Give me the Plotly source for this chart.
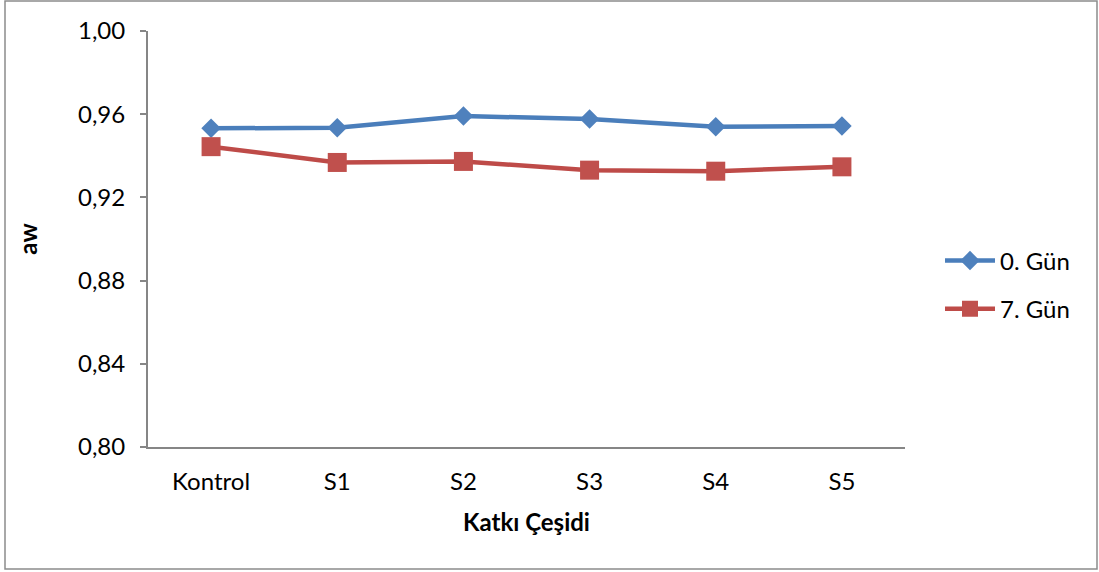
import plotly.graph_objects as go

categories = ["Kontrol", "S1", "S2", "S3", "S4", "S5"]
gun0 = [0.9532, 0.9535, 0.9591, 0.9577, 0.9540, 0.9543]
gun7 = [0.9444, 0.9368, 0.9373, 0.9331, 0.9326, 0.9347]
y_ticks = [0.80, 0.84, 0.88, 0.92, 0.96, 1.00]

FONT = "Lato"
FS = 24
W, H = 1099, 572
L, R, T, B = 148, 194, 31, 125
pw, ph = W - L - R, H - T - B

fig = go.Figure()
fig.add_trace(go.Scatter(
    x=categories, y=gun0, name="0. Gün", mode="lines+markers", legendgroup="g0",
    line=dict(color="#4A7EBB", width=4.5),
    marker=dict(symbol="diamond", size=15, color="#4F81BD"),
))
fig.add_trace(go.Scatter(
    x=categories, y=gun7, name="7. Gün", mode="lines+markers", legendgroup="g7",
    line=dict(color="#BE4B48", width=4.5),
    marker=dict(symbol="square", size=19, color="#C0504D"),
))

# outer chart frame
fig.add_shape(
    type="rect", xref="paper", yref="paper",
    x0=(5 - L) / pw, x1=(1097 - L) / pw,
    y0=(H - B - 569) / ph, y1=(H - B - 1) / ph,
    line=dict(color="#8C8C8C", width=1.5), fillcolor="rgba(0,0,0,0)", layer="below",
)

fig.update_layout(
    width=W, height=H,
    margin=dict(l=L, r=R, t=T, b=B, pad=0),
    paper_bgcolor="white", plot_bgcolor="white",
    separators=", ",
    font=dict(family=FONT, size=FS, color="black"),
    showlegend=True,
    legend=dict(
        x=(940 - L) / pw, xanchor="left", y=(H - B - 285) / ph, yanchor="middle",
        font=dict(family=FONT, size=FS, color="black"),
        itemwidth=50, tracegroupgap=14, bgcolor="rgba(0,0,0,0)",
    ),
    xaxis=dict(
        type="category", range=[-0.5, 5.5],
        showline=True, linecolor="#868686", linewidth=2,
        ticks="", showgrid=False, zeroline=False,
        ticklabelstandoff=12,
        tickfont=dict(family=FONT, size=FS, color="black"),
        title=dict(text="<b>Katkı Çeşidi</b>", standoff=20,
                   font=dict(family=FONT, size=FS, color="black")),
    ),
    yaxis=dict(
        range=[0.80, 1.00], tickvals=y_ticks, tickformat=".2f",
        showline=True, linecolor="#868686", linewidth=2,
        ticks="outside", ticklen=6, tickcolor="#868686", tickwidth=1.5,
        ticklabelstandoff=10,
        showgrid=False, zeroline=False,
        tickfont=dict(family=FONT, size=FS, color="black"),
        title=dict(text="<b>aw</b>", standoff=34,
                   font=dict(family=FONT, size=FS, color="black")),
    ),
)

fig.write_html("out.html")
